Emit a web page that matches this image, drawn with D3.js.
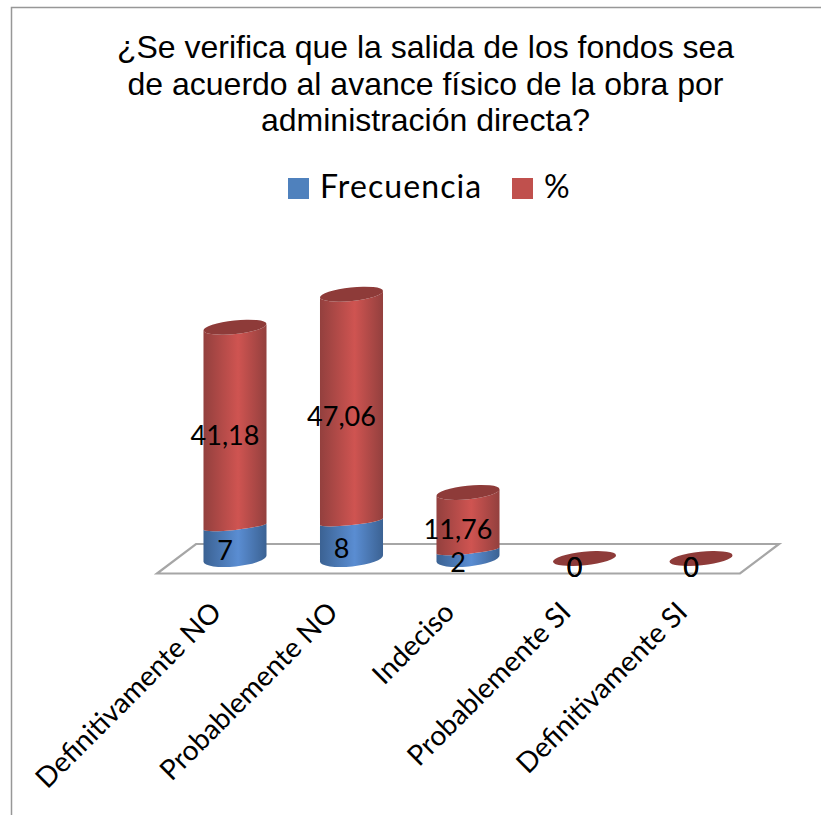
<!DOCTYPE html>
<html>
<head>
<meta charset="utf-8">
<script src="https://cdn.jsdelivr.net/npm/d3@7"></script>
<style>
  html, body { margin: 0; padding: 0; background: #fff; }
  svg { display: block; }
</style>
</head>
<body>
<script>
// Data

const categories = ["Definitivamente NO", "Probablemente NO", "Indeciso", "Probablemente SI", "Definitivamente SI"];
const frecuencia = [7, 8, 2, 0, 0];
const porcentaje = [41.18, 47.06, 11.76, 0, 0];
const seriesNames = ["Frecuencia", "%"];
const titleLines = [
  "¿Se verifica que la salida de los fondos sea",
  "de acuerdo al avance físico de la obra por",
  "administración directa?"
];

const width = 821;
const height = 815;
const labelFont = "Lato, 'Open Sans', sans-serif";

const svg = d3.select("body")
  .append("svg")
  .attr("width", width)
  .attr("height", height);

// Cylinder gradients

const defs = svg.append("defs");

function addGradient(id, edge, mid) {
  const g = defs.append("linearGradient").attr("id", id);
  g.append("stop").attr("offset", "0%").attr("stop-color", edge);
  g.append("stop").attr("offset", "55%").attr("stop-color", mid);
  g.append("stop").attr("offset", "100%").attr("stop-color", edge);
}
addGradient("gradBlue", "#3b6293", "#5a8dd2");
addGradient("gradRed", "#93403e", "#cf5451");

// Frame

svg.append("path")
  .attr("d", `M11.5,${height}V7.5H${width}`)
  .attr("fill", "none")
  .attr("stroke", "#979797")
  .attr("stroke-width", 1.5);

// Title

svg.append("g").selectAll("text")
  .data(titleLines)
  .enter()
  .append("text")
  .attr("x", 425.5)
  .attr("y", (d, i) => 58 + i * 36.5)
  .attr("text-anchor", "middle")
  .attr("font-family", "'Liberation Sans', Arial, sans-serif")
  .attr("font-size", 32)
  .attr("fill", "#000")
  .text(d => d);

// Legend

const legendColor = ["#4f81bd", "#c0504d"];
const legendSwatchX = [288, 512];
const legend = svg.append("g");

seriesNames.forEach((name, i) => {
  legend.append("rect")
    .attr("x", legendSwatchX[i])
    .attr("y", 178)
    .attr("width", 21)
    .attr("height", 21)
    .attr("fill", legendColor[i]);
  legend.append("text")
    .attr("x", legendSwatchX[i] + 32)
    .attr("y", 198)
    .attr("font-family", labelFont)
    .attr("font-size", 32)
    .attr("letter-spacing", 1.1)
    .attr("fill", "#000")
    .text(name);
});

// Scales

const x = d3.scaleBand()
  .domain(categories)
  .range([176.75, 759.25]);

const y = d3.scaleLinear()
  .domain([0, 60])
  .range([560, 272]);

// Floor

svg.append("path")
  .attr("d", "M157,573.5H740L779,544H196Z")
  .attr("fill", "none")
  .attr("stroke", "#a6a6a6")
  .attr("stroke-width", 2.2);

// Cylinders

const rx = x.bandwidth() * 0.272;
const ryBase = 8;
const ryTop = 6.8;
const rySeam = 3.5;
const lift = 1.5;
const tilt = -6;
const lx = rx * Math.cos(tilt * Math.PI / 180);
const ly = rx * Math.sin(-tilt * Math.PI / 180);

function sidePath(cx, yBottom, yTop, ryBottom, ryUpper) {
  return `M${cx - lx},${yTop + ly}` +
    `L${cx - lx},${yBottom + ly}` +
    `A${rx},${ryBottom} ${tilt} 0 0 ${cx + lx},${yBottom - ly}` +
    `L${cx + lx},${yTop - ly}` +
    `A${rx},${ryUpper} ${tilt} 0 1 ${cx - lx},${yTop + ly}Z`;
}

const rows = categories.map((c, i) => ({
  cat: c,
  cx: x(c) + x.bandwidth() / 2,
  f: frecuencia[i],
  p: porcentaje[i]
}));

const bars = svg.append("g");

bars.selectAll("path.blue")
  .data(rows.filter(d => d.f > 0))
  .enter()
  .append("path")
  .attr("class", "blue")
  .attr("d", d => sidePath(d.cx, y(0) - lift, y(d.f), ryBase, rySeam))
  .attr("fill", "url(#gradBlue)");

bars.selectAll("path.red")
  .data(rows.filter(d => d.p > 0))
  .enter()
  .append("path")
  .attr("class", "red")
  .attr("d", d => sidePath(d.cx, y(d.f), y(d.f + d.p) - lift, rySeam, ryTop))
  .attr("fill", "url(#gradRed)");

bars.selectAll("ellipse")
  .data(rows)
  .enter()
  .append("ellipse")
  .attr("rx", rx)
  .attr("ry", ryTop)
  .attr("transform", d => `translate(${d.cx},${y(d.f + d.p) - lift}) rotate(${tilt})`)
  .attr("fill", "#8e3b39");

// Value labels

function addLabels(getLow, getHigh, getValue) {
  svg.append("g").selectAll("text")
    .data(rows)
    .enter()
    .append("text")
    .attr("x", d => d.cx - 10)
    .attr("y", d => (y(getLow(d)) + y(getHigh(d))) / 2 + 17)
    .attr("text-anchor", "middle")
    .attr("font-family", labelFont)
    .attr("font-size", 27)
    .attr("fill", "#000")
    .text(d => String(getValue(d)).replace(".", ","));
}
addLabels(d => 0, d => d.f, d => d.f);
addLabels(d => d.f, d => d.f + d.p, d => d.p);

// Category axis

const axis = svg.append("g")
  .attr("transform", "translate(0,600)")
  .call(d3.axisBottom(x).tickSize(0));

axis.select(".domain").remove();

axis.selectAll("text")
  .attr("font-family", labelFont)
  .attr("font-size", 28)
  .attr("fill", "#000")
  .attr("text-anchor", "end")
  .attr("x", 0)
  .attr("y", 0)
  .attr("dy", 0)
  .attr("transform", "translate(-12,14) rotate(-45)");
</script>
</body>
</html>
